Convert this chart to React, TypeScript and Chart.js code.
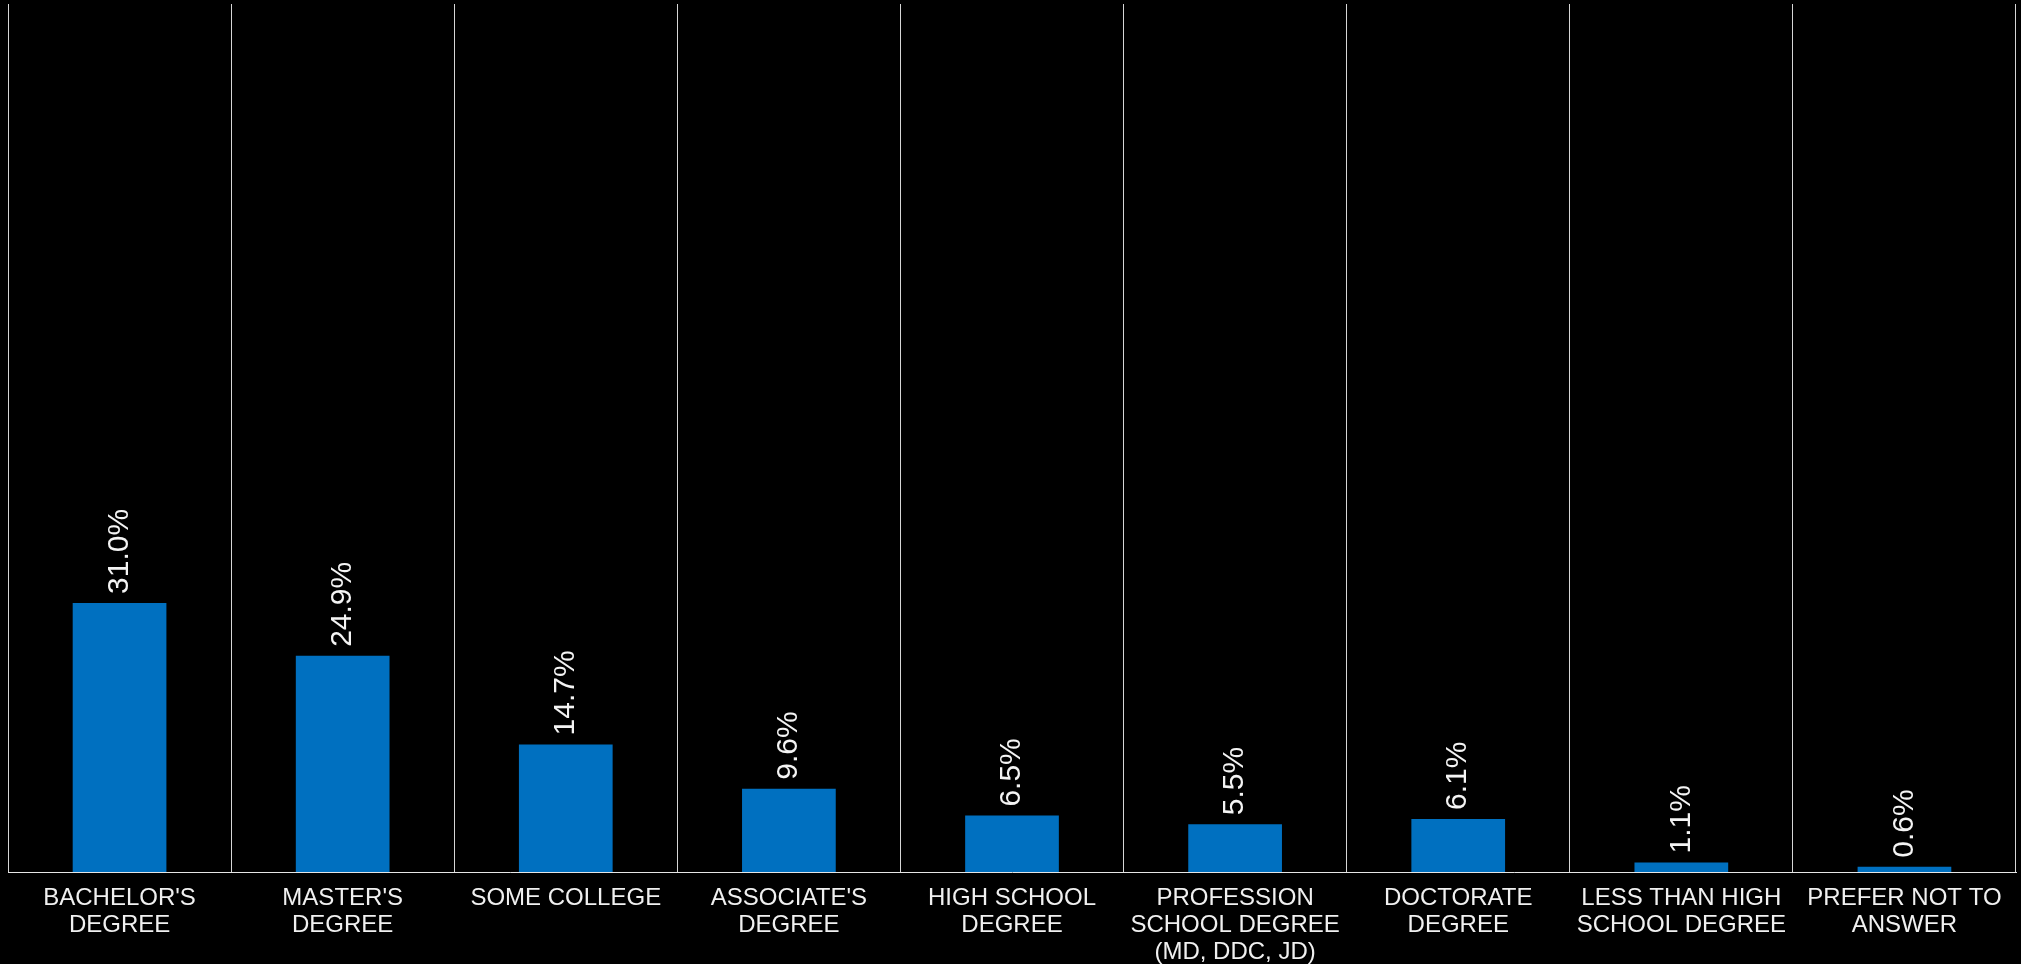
import React, { useEffect, useRef } from "react";
import { Chart, registerables } from "chart.js";

Chart.register(...registerables);

const categories: (string | string[])[] = [
  ["BACHELOR'S", "DEGREE"],
  ["MASTER'S", "DEGREE"],
  "SOME COLLEGE",
  ["ASSOCIATE'S", "DEGREE"],
  ["HIGH SCHOOL", "DEGREE"],
  ["PROFESSION", "SCHOOL DEGREE", "(MD, DDC, JD)"],
  ["DOCTORATE", "DEGREE"],
  ["LESS THAN HIGH", "SCHOOL DEGREE"],
  ["PREFER NOT TO", "ANSWER"],
];

const values: number[] = [31.0, 24.9, 14.7, 9.6, 6.5, 5.5, 6.1, 1.1, 0.6];

const FONT = "'Liberation Sans', Arial, Helvetica, sans-serif";

const valueLabelPlugin = {
  id: "valueLabels",
  afterDatasetsDraw(chart: any) {
    const ctx = chart.ctx;
    const meta = chart.getDatasetMeta(0);
    ctx.save();
    ctx.fillStyle = "#f4f4f4";
    ctx.font = `30px ${FONT}`;
    ctx.textAlign = "left";
    ctx.textBaseline = "middle";
    meta.data.forEach((bar: any, i: number) => {
      const v = chart.data.datasets[0].data[i] as number;
      ctx.save();
      ctx.translate(bar.x, bar.y - 9);
      ctx.rotate(-Math.PI / 2);
      ctx.fillText(v.toFixed(1) + "%", 0, 0);
      ctx.restore();
    });
    ctx.restore();
  },
};

export default function App() {
  const ref = useRef<HTMLCanvasElement>(null);

  useEffect(() => {
    if (!ref.current) return;
    const chart = new Chart(ref.current, {
      type: "bar",
      data: {
        labels: categories,
        datasets: [
          {
            data: values,
            backgroundColor: "#0070C0",
            borderWidth: 0,
            barPercentage: 0.42,
            categoryPercentage: 1,
          },
        ],
      },
      options: {
        animation: false,
        responsive: false,
        maintainAspectRatio: false,
        layout: { padding: { left: 8, right: 5, top: 4, bottom: 0 } },
        plugins: {
          legend: { display: false },
          tooltip: { enabled: false },
        },
        scales: {
          x: {
            offset: true,
            grid: {
              display: true,
              offset: true,
              color: "#d6d6d6",
              lineWidth: 1,
              drawTicks: false,
            },
            border: { display: true, color: "#e6e6e6", width: 1 },
            ticks: {
              color: "#f0f0f0",
              font: { family: FONT, size: 24, lineHeight: 1.12 },
              padding: 13,
              maxRotation: 0,
              minRotation: 0,
              autoSkip: false,
            },
            afterFit(axis: any) {
              axis.height = 92;
            },
          },
          y: {
            display: false,
            min: 0,
            max: 100,
          },
        },
      },
      plugins: [valueLabelPlugin],
    });
    return () => chart.destroy();
  }, []);

  return (
    <div
      style={{
        position: "fixed",
        left: 0,
        top: 0,
        width: 2021,
        height: 964,
        background: "#000",
      }}
    >
      <canvas ref={ref} width={2021} height={964} style={{ display: "block" }} />
    </div>
  );
}
